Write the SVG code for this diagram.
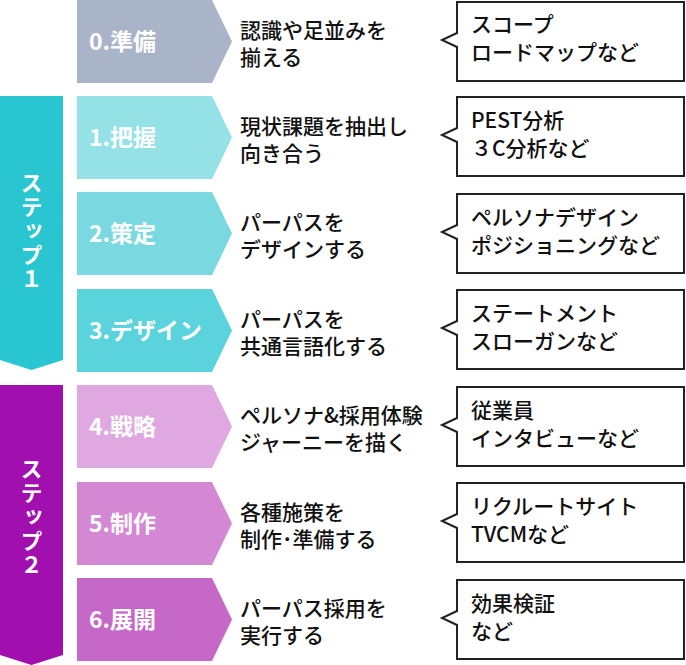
<svg xmlns="http://www.w3.org/2000/svg" width="686" height="665" viewBox="0 0 686 665">
<style>
text{font-family:"Noto Sans CJK JP","Noto Sans",sans-serif;font-size:21px;font-weight:500;fill:#111}
.w{fill:#fff;font-weight:700;font-size:23px}
.v{fill:#fff;font-weight:700;font-size:22px;writing-mode:vertical-rl;letter-spacing:2px}
.b{fill:#fff;stroke:#222;stroke-width:2}
</style>
<g id="step1"><path d="M0 96H63V360L31.5 370L0 360Z" fill="#29c6d1"/><text class="v" x="31.5" y="172">ステップ１</text></g>
<g id="step2"><path d="M0 385H63V655L31.5 665L0 655Z" fill="#a10fae"/><text class="v" x="31.5" y="458">ステップ２</text></g>
<g id="r0"><path d="M77 0H212L232 41.5L212 83H77Z" fill="#aab4c8"/><text class="w" x="89" y="50">0.準備</text><text x="240" y="38">認識や足並みを</text><text x="240" y="65">揃える</text></g>
<g id="r1"><path d="M77 96H212L232 137.5L212 179H77Z" fill="#94e1e6"/><text class="w" x="89" y="146">1.把握</text><text x="240" y="134">現状課題を抽出し</text><text x="240" y="161">向き合う</text></g>
<g id="r2"><path d="M77 192H212L232 233.5L212 275H77Z" fill="#7ad9e0"/><text class="w" x="89" y="242">2.策定</text><text x="240" y="230">パーパスを</text><text x="240" y="257">デザインする</text></g>
<g id="r3"><path d="M77 289H212L232 330.5L212 372H77Z" fill="#5ad3dc"/><text class="w" x="89" y="339">3.デザイン</text><text x="240" y="327">パーパスを</text><text x="240" y="354">共通言語化する</text></g>
<g id="r4"><path d="M77 385H212L232 426.5L212 468H77Z" fill="#dfa8e0"/><text class="w" x="89" y="435">4.戦略</text><text x="240" y="423">ペルソナ&amp;採用体験</text><text x="240" y="450">ジャーニーを描く</text></g>
<g id="r5"><path d="M77 482H212L232 523.5L212 565H77Z" fill="#d488d4"/><text class="w" x="89" y="532">5.制作</text><text x="240" y="520">各種施策を</text><text x="240" y="547">制作･準備する</text></g>
<g id="r6"><path d="M77 578H212L232 619.5L212 661H77Z" fill="#c568c7"/><text class="w" x="89" y="628">6.展開</text><text x="240" y="616">パーパス採用を</text><text x="240" y="643">実行する</text></g>
<g id="b0"><path class="b" d="M457 2H684V81H457V47L442 40L457 33Z"/><text x="471" y="32">スコープ</text><text x="471" y="60">ロードマップなど</text></g>
<g id="b1"><path class="b" d="M457 97H684V176H457V142L442 135L457 128Z"/><text x="471" y="128">PEST分析</text><text x="471" y="156">３C分析など</text></g>
<g id="b2"><path class="b" d="M457 194H684V273H457V239L442 232L457 225Z"/><text x="471" y="225">ペルソナデザイン</text><text x="471" y="253">ポジショニングなど</text></g>
<g id="b3"><path class="b" d="M457 290H684V369H457V335L442 328L457 321Z"/><text x="471" y="321">ステートメント</text><text x="471" y="349">スローガンなど</text></g>
<g id="b4"><path class="b" d="M457 387H684V466H457V432L442 425L457 418Z"/><text x="471" y="418">従業員</text><text x="471" y="446">インタビューなど</text></g>
<g id="b5"><path class="b" d="M457 483H684V562H457V528L442 521L457 514Z"/><text x="471" y="514">リクルートサイト</text><text x="471" y="542">TVCMなど</text></g>
<g id="b6"><path class="b" d="M457 580H684V659H457V625L442 618L457 611Z"/><text x="471" y="611">効果検証</text><text x="471" y="639">など</text></g>
<g id="connectors"/>
</svg>
